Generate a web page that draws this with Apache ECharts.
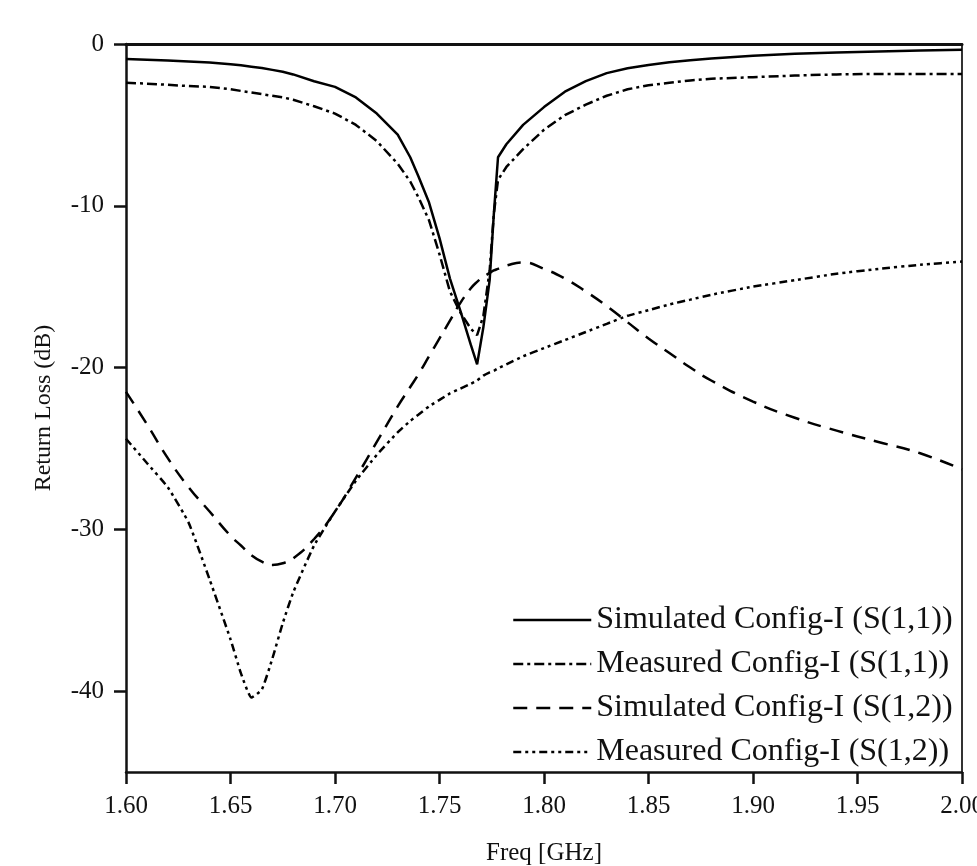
<!DOCTYPE html>
<html lang="en">
<head>
    <meta charset="UTF-8">
    <title>Return Loss</title>
    <script src="https://cdn.jsdelivr.net/npm/echarts@6/dist/echarts.min.js"></script>
    <style>
        html, body { margin: 0; padding: 0; background: #fff; }
        #chart { width: 977px; height: 866px; }
    </style>
</head>
<body>
<div id="chart"></div>
<script type="text/javascript">
	// frequency points (GHz), denser around the resonance
	var freq = [1.600, 1.610, 1.620, 1.630, 1.640, 1.650, 1.655, 1.660, 1.665, 1.670,
		1.675, 1.680, 1.690, 1.700, 1.710, 1.720, 1.730, 1.736, 1.740, 1.745,
		1.750, 1.755, 1.760, 1.765, 1.768, 1.771, 1.774, 1.776, 1.778, 1.782,
		1.790, 1.800, 1.810, 1.820, 1.830, 1.840, 1.850, 1.860, 1.870, 1.880,
		1.900, 1.920, 1.940, 1.960, 1.980, 2.000];

	var simS11 = [-0.93, -0.97, -1.02, -1.08, -1.14, -1.25, -1.32, -1.40, -1.48, -1.60,
		-1.72, -1.88, -2.3, -2.65, -3.3, -4.3, -5.6, -7.0, -8.2, -9.8,
		-12.0, -14.5, -16.5, -18.6, -19.8, -17.5, -14.6, -10.5, -7.0, -6.2,
		-5.0, -3.9, -2.95, -2.3, -1.8, -1.5, -1.3, -1.13, -1.0, -0.9,
		-0.72, -0.6, -0.52, -0.46, -0.4, -0.35];

	var measS11 = [-2.4, -2.45, -2.52, -2.6, -2.65, -2.8, -2.9, -3.0, -3.1, -3.2,
		-3.3, -3.45, -3.85, -4.3, -5.0, -6.0, -7.4, -8.5, -9.5, -10.9,
		-13.0, -15.3, -16.6, -17.6, -18.0, -16.8, -14.0, -10.5, -8.4, -7.6,
		-6.5, -5.3, -4.4, -3.75, -3.2, -2.8, -2.55, -2.4, -2.25, -2.15,
		-2.05, -1.95, -1.88, -1.85, -1.85, -1.85];

	var simS12 = [-21.5, -23.5, -25.6, -27.4, -28.9, -30.4, -31.0, -31.6, -32.0, -32.2,
		-32.1, -31.8, -30.6, -28.9, -26.8, -24.6, -22.4, -21.2, -20.4, -19.3,
		-18.2, -17.1, -16.0, -15.1, -14.7, -14.4, -14.15, -14.0, -13.9, -13.7,
		-13.5, -13.9, -14.5, -15.3, -16.2, -17.2, -18.2, -19.1, -20.0, -20.8,
		-22.1, -23.1, -23.9, -24.6, -25.3, -26.3];

	var measS12 = [-24.4, -25.9, -27.4, -29.6, -33.1, -36.8, -38.9, -40.4, -39.9, -38.0,
		-35.8, -33.9, -31.0, -28.9, -27.0, -25.4, -24.0, -23.3, -22.9, -22.4,
		-22.0, -21.6, -21.3, -21.0, -20.8, -20.5, -20.3, -20.2, -20.05, -19.8,
		-19.3, -18.8, -18.3, -17.8, -17.3, -16.8, -16.45, -16.1, -15.8, -15.5,
		-15.0, -14.6, -14.2, -13.9, -13.65, -13.45];

	var names = ['Simulated Config-I (S(1,1))', 'Measured Config-I (S(1,1))',
		'Simulated Config-I (S(1,2))', 'Measured Config-I (S(1,2))'];
	var yTicks = [0, -10, -20, -30, -40];

	var font = "'Liberation Serif', 'Times New Roman', serif";

	function pairs(vals) {
		var arr = [];
		for (var i = 0; i < freq.length; i++) {
			arr.push([freq[i], vals[i]]);
		}
		return arr;
	}

	function line(name, vals, dash, smooth) {
		return {
			name: name,
			type: 'line',
			data: pairs(vals),
			symbol: 'none',
			smooth: smooth,
			silent: true,
			xAxisIndex: 0,
			yAxisIndex: 0,
			itemStyle: {color: '#000'},
			lineStyle: {color: '#000', width: 2.5, type: dash}
		};
	}

	var chart = echarts.init(document.getElementById('chart'));
	var option = {
		backgroundColor: '#fff',
		animation: false,
		grid: {left: 126, top: 44, right: 15, bottom: 94, outerBoundsMode: 'none', containLabel: false},
		legend: {
			orient: 'vertical',
			left: 512,
			top: 603,
			padding: 0,
			itemWidth: 78,
			itemHeight: 14,
			itemGap: 10,
			data: names,
			itemStyle: {opacity: 0},
			lineStyle: {width: 2.5},
			textStyle: {fontFamily: font, fontSize: 32, color: '#111', lineHeight: 34}
		},
		xAxis: [{
			type: 'value',
			min: 1.6,
			max: 2.0,
			interval: 0.05,
			name: 'Freq [GHz]',
			nameLocation: 'middle',
			nameGap: 69,
			nameTextStyle: {fontFamily: font, fontSize: 25, color: '#111'},
			axisLine: {show: true, onZero: false, lineStyle: {color: '#111', width: 2.5}},
			axisTick: {show: true, inside: false, length: 12, lineStyle: {color: '#111', width: 2.5}},
			axisLabel: {
				fontFamily: font, fontSize: 25, color: '#111', margin: 22,
				formatter: function (v) { return v.toFixed(2); }
			},
			splitLine: {show: false}
		}, {
			type: 'value',
			position: 'top',
			min: 1.6,
			max: 2.0,
			axisLine: {show: true, onZero: false, lineStyle: {color: '#111', width: 3}},
			axisTick: {show: false},
			axisLabel: {show: false},
			splitLine: {show: false}
		}],
		yAxis: [{
			type: 'value',
			min: -45,
			max: 0,
			name: 'Return Loss (dB)',
			nameLocation: 'middle',
			nameRotate: 90,
			nameGap: 70,
			nameTextStyle: {fontFamily: font, fontSize: 24, color: '#111'},
			axisLine: {show: true, onZero: false, lineStyle: {color: '#111', width: 2.5}},
			axisTick: {show: true, length: 12, customValues: yTicks, lineStyle: {color: '#111', width: 2.5}},
			axisLabel: {fontFamily: font, fontSize: 25, color: '#111', margin: 22, customValues: yTicks},
			splitLine: {show: false}
		}, {
			type: 'value',
			position: 'right',
			min: -45,
			max: 0,
			axisLine: {show: true, onZero: false, lineStyle: {color: '#333', width: 2}},
			axisTick: {show: false},
			axisLabel: {show: false},
			splitLine: {show: false}
		}],
		series: [
			line(names[0], simS11, 'solid', false),
			line(names[1], measS11, [10, 4, 3, 4], false),
			line(names[2], simS12, [14, 9], true),
			line(names[3], measS12, [8, 4, 3, 4, 3, 4], 0.15)
		]
	};
	chart.setOption(option);
</script>
</body>
</html>
